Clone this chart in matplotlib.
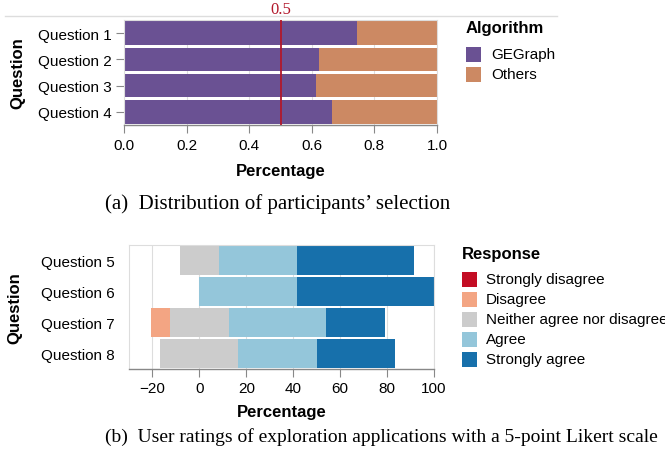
import numpy as np
import matplotlib.pyplot as plt
from matplotlib.patches import Rectangle
from matplotlib.lines import Line2D

plt.rcParams['font.family'] = ['Liberation Sans', 'DejaVu Sans']

# (a) share of participants choosing GEGraph per question
questions_a = ['Question 1', 'Question 2', 'Question 3', 'Question 4']
algorithms = ['GEGraph', 'Others']
gegraph = [0.743, 0.623, 0.615, 0.663]
others = [1 - v for v in gegraph]
threshold = 0.5

# (b) Likert responses (percent) per question
questions_b = ['Question 5', 'Question 6', 'Question 7', 'Question 8']
responses = ['Strongly disagree', 'Disagree', 'Neither agree nor disagree',
             'Agree', 'Strongly agree']
strongly_disagree = [0.0, 0.0, 0.0, 0.0]
disagree = [0.0, 0.0, 8.33, 0.0]
neutral = [16.67, 0.0, 25.0, 33.33]
agree = [33.33, 41.67, 41.67, 33.33]
strongly_agree = [50.0, 58.33, 25.0, 33.33]

c_alg = ['#6a5193', '#cc8963']
c_resp = ['#c30d24', '#f3a583', '#cccccc', '#94c6da', '#1770ab']

W, H = 665, 460
fig = plt.figure(figsize=(W / 100, H / 100), dpi=100)

def box(x0, y0, x1, y1):
    return [x0 / W, 1 - y1 / H, (x1 - x0) / W, (y1 - y0) / H]

def style(ax):
    for s in ['top', 'right', 'left']:
        ax.spines[s].set_color('#dddddd')
        ax.spines[s].set_linewidth(0.8)
    ax.spines['bottom'].set_color('#888888')
    ax.spines['bottom'].set_linewidth(1.0)
    ax.tick_params(axis='x', length=6, width=0.8, color='#888888',
                   labelsize=11, pad=3)
    ax.grid(axis='x', color='#dddddd', linewidth=0.8)
    ax.set_axisbelow(True)

def legend(title, labels, colors, x, y_title, y_first, x_text):
    # pixel-positioned legend: bold title, square swatches, 20px rows
    fig.text(x / W, 1 - y_title / H, title, fontsize=12, fontweight='bold',
             va='center', ha='left')
    for i, (lab, col) in enumerate(zip(labels, colors)):
        yc = y_first + 20 * i
        fig.add_artist(Rectangle((x / W, 1 - (yc + 7.5) / H), 15 / W, 15 / H,
                                 facecolor=col, edgecolor='none',
                                 transform=fig.transFigure))
        fig.text(x_text / W, 1 - yc / H, lab, fontsize=11, va='center', ha='left')

# ---- top chart ----
ax1 = fig.add_axes(box(124, 21, 437, 126))
y = np.arange(len(questions_a))
ax1.barh(y, gegraph, height=0.9, color=c_alg[0], zorder=2)
ax1.barh(y, others, left=gegraph, height=0.9, color=c_alg[1], zorder=2)
ax1.axvline(threshold, color='#b2182b', linewidth=1.3, zorder=3)
ax1.text(threshold, 1.03, str(threshold), transform=ax1.get_xaxis_transform(),
         ha='center', va='bottom', color='#b2182b', fontsize=12,
         family='Liberation Serif')
ax1.set_xlim(0, 1)
ax1.set_ylim(len(questions_a) - 0.5, -0.5)
ax1.set_xticks(np.arange(0, 1.01, 0.2))
ax1.set_xticklabels([f'{v:.1f}' for v in np.arange(0, 1.01, 0.2)])
ax1.set_yticks(y)
ax1.set_yticklabels(questions_a)
style(ax1)
ax1.tick_params(axis='y', length=6, width=0.8, color='#888888',
                labelsize=11, pad=3)
ax1.set_xlabel('Percentage', fontsize=12, fontweight='bold', labelpad=8)
ax1.set_ylabel('Question', fontsize=12, fontweight='bold', labelpad=9)

legend('Algorithm', algorithms, c_alg, 466, 28, 55, 491)

# ---- bottom chart ----
ax2 = fig.add_axes(box(129, 246, 434, 370))
yb = np.arange(len(questions_b))
vals = np.array([strongly_disagree, disagree, neutral, agree, strongly_agree])
start = -(vals[0] + vals[1] + vals[2] / 2)
for i, col in enumerate(c_resp):
    ax2.barh(yb, vals[i], left=start, height=0.91, color=col, zorder=2)
    start = start + vals[i]
ax2.set_xlim(-30, 100)
ax2.set_ylim(len(questions_b) - 0.5, -0.5)
ax2.set_xticks(np.arange(-20, 101, 20))
ax2.set_xticklabels(['\u221220', '0', '20', '40', '60', '80', '100'])
ax2.set_yticks(yb)
ax2.set_yticklabels(questions_b)
style(ax2)
ax2.tick_params(axis='y', length=0, labelsize=11, pad=10)
ax2.set_xlabel('Percentage', fontsize=12, fontweight='bold', labelpad=6)
ax2.set_ylabel('Question', fontsize=12, fontweight='bold', labelpad=14)

legend('Response', responses, c_resp, 462, 255, 280, 486)

# separator line above the first panel
fig.add_artist(Line2D([5 / W, 557 / W], [1 - 17 / H, 1 - 17 / H],
                      color='#dddddd', linewidth=1.0))

fig.text(105 / W, 1 - 204 / H, '(a)  Distribution of participants\u2019 selection',
         family='Liberation Serif', fontsize=15, va='center')
fig.text(105 / W, 1 - 437 / H,
         '(b)  User ratings of exploration applications with a 5-point Likert scale',
         family='Liberation Serif', fontsize=14, va='center')

fig.savefig('out.png', dpi=100)
